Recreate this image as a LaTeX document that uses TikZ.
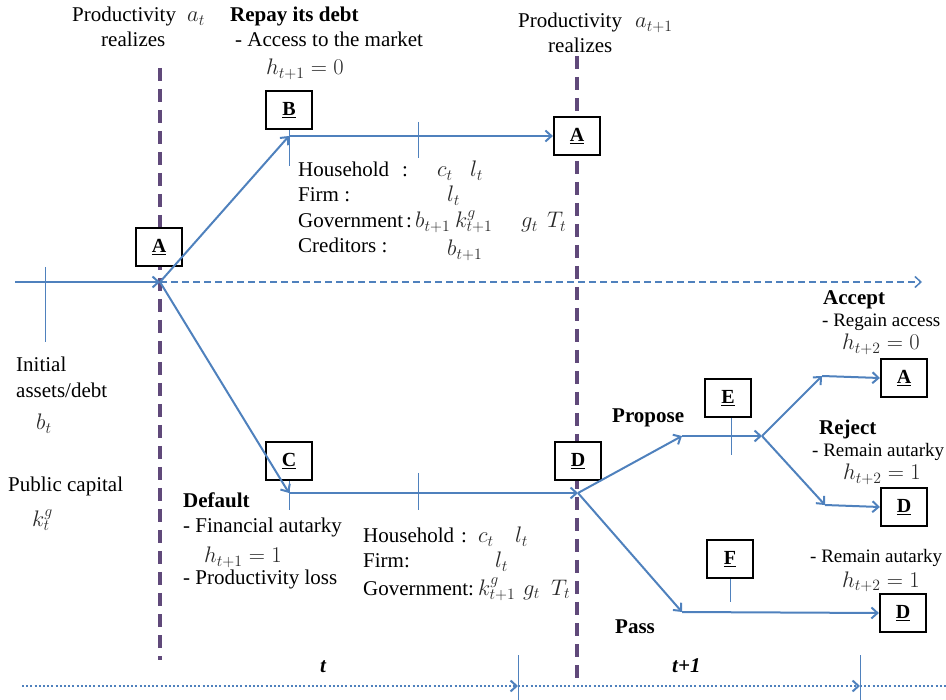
\RequirePackage{fix-cm}
\documentclass[tikz,border=0pt]{standalone}
\usepackage{fontspec}
\setmainfont{Liberation Serif}
\usetikzlibrary{arrows.meta}
\definecolor{lblue}{RGB}{79,129,189}
\definecolor{lpurple}{RGB}{96,73,122}
\definecolor{mgray}{RGB}{40,40,40}
\begin{document}
\begin{tikzpicture}[x=1pt,y=-1pt,
  every node/.style={font=\fontsize{21}{24}\selectfont, inner sep=0pt},
  box/.style={draw=black, fill=white, line width=2.2pt, minimum width=46pt, minimum height=38pt, font=\fontsize{20}{22}\selectfont\bfseries},
  flow/.style={draw=lblue, line width=2pt},
  arr/.style={flow, -{Straight Barb[length=6pt,width=11pt,line width=2pt]}},
  tick/.style={draw=lblue, line width=1pt},
  period/.style={draw=lpurple, line width=4pt, dash pattern=on 13pt off 8pt},
  dotl/.style={draw=lblue, line width=2.2pt, dash pattern=on 2pt off 2.2pt, -{Straight Barb[length=6pt,width=11pt,line width=2pt]}},
  lbl/.style={anchor=base west},
  sml/.style={anchor=base west, font=\fontsize{19}{22}\selectfont},
  mth/.style={anchor=base west, text=mgray, font=\fontsize{22.5}{25}\selectfont},
  bld/.style={anchor=base west, font=\fontsize{21}{24}\selectfont\bfseries},
]
\useasboundingbox (0,0) rectangle (946,700);

% period lines
\coordinate (p1top) at (160,68);
\coordinate (p1bot) at (160,660);
\coordinate (p2top) at (577,56);
\coordinate (p2bot) at (577,678);
\draw[period] (p1top) -- (p1bot);
\draw[period] (p2top) -- (p2bot);

% key points
\coordinate (start) at (15,282);
\coordinate (pA) at (160,282);
\coordinate (pEnd) at (922,282);
\coordinate (pB) at (289,136);
\coordinate (pC) at (289,493);
\coordinate (pD) at (578,493);
\coordinate (pE1) at (682,436);
\coordinate (pE2) at (762,436);
\coordinate (pAc) at (822,376);
\coordinate (pRj) at (825,505);
\coordinate (pF) at (682,612);

% boxes
\node[box] (A1) at (159,247) {\underline{A}};
\node[box] (B)  at (289,110) {\underline{B}};
\node[box] (A2) at (577,136) {\underline{A}};
\node[box] (C)  at (289,461) {\underline{C}};
\node[box] (D1) at (578,461) {\underline{D}};
\node[box] (E)  at (728,398) {\underline{E}};
\node[box] (F)  at (730,559) {\underline{F}};
\node[box] (A3) at (904,378) {\underline{A}};
\node[box] (D2) at (904,507) {\underline{D}};
\node[box] (D3) at (903,613) {\underline{D}};

% main flow
\draw[arr] (start) -- (pA);
\draw[flow, line width=1.5pt, dash pattern=on 7pt off 4pt, -{Straight Barb[length=6pt,width=11pt,line width=1.5pt]}] (pA) -- (pEnd);
\draw[arr] (pA) -- (pB);
\draw[arr] (pB) -- (A2.west);
\draw[arr] (pA) -- (pC);
\draw[arr] (pC) -- (pD);
\draw[arr] (pD) -- (pE1);
\draw[arr] (pE1) -- (pE2);
\draw[arr] (pE2) -- (pAc);
\draw[arr] (pAc) -- (A3.west);
\draw[arr] (pE2) -- (pRj);
\draw[arr] (pRj) -- (D2.west);
\draw[arr] (pD) -- (pF);
\draw[arr] (pF) -- (D3.west);

% ticks
\coordinate (t0a) at (45,267); \coordinate (t0b) at (45,342);
\draw[tick] (t0a) -- (t0b);
\coordinate (t1b) at (289,166); \draw[tick] (B.south) -- (t1b);
\coordinate (t2a) at (418,122); \coordinate (t2b) at (418,158); \draw[tick] (t2a) -- (t2b);
\coordinate (t3b) at (289,510); \draw[tick] (C.south) -- (t3b);
\coordinate (t4a) at (418,473); \coordinate (t4b) at (418,510); \draw[tick] (t4a) -- (t4b);
\coordinate (t5b) at (731,455); \draw[tick] (E.south -| t5b) -- (t5b);
\coordinate (t6b) at (730,602); \draw[tick] (F.south) -- (t6b);

% bottom time line
\coordinate (b0) at (22,686);
\coordinate (b1) at (518,686);
\coordinate (b2) at (860,686);
\coordinate (b3) at (946,686);
\draw[dotl] (b0) -- (b1);
\draw[dotl] (b1) -- (b2);
\draw[dotl, -] (b2) -- (b3);
\coordinate (k1a) at (518,655); \coordinate (k1b) at (518,700);
\coordinate (k2a) at (860,655); \coordinate (k2b) at (860,700);
\draw[tick] (k1a) -- (k1b);
\draw[tick] (k2a) -- (k2b);
\node[anchor=base west, font=\fontsize{21}{24}\selectfont\bfseries\itshape] (tlab) at (320,672) {t};
\node[anchor=base west, font=\fontsize{21}{24}\selectfont\bfseries\itshape] (t1lab) at (672,672) {t+1};

% top labels
\node[lbl] (prod1) at (72,22) {Productivity};
\node[mth] (at) at (187,22) {$a_t$};
\node[lbl] (real1) at (101,47) {realizes};
\node[bld] (repay) at (230,22) {Repay its debt};
\node[lbl] (access) at (235,47) {- Access to the market};
\node[mth] (h1) at (266,75) {$h_{t+1}=0$};
\node[lbl] (prod2) at (518,28) {Productivity};
\node[mth] (at1) at (635,28) {$a_{t+1}$};
\node[lbl] (real2) at (548,53) {realizes};

% upper block
\node[lbl] (hh1) at (298,177) {Household};
\node[lbl] (hh1c) at (402,177) {:};
\node[mth] (ct1) at (437,177) {$c_t$};
\node[mth] (lt1) at (470,177) {$l_t$};
\node[lbl] (fi1) at (298,202) {Firm :};
\node[mth] (lf1) at (447,202) {$l_t$};
\node[lbl] (gv1) at (298,228) {Government};
\node[lbl] (gv1c) at (406,228) {:};
\node[mth] (bg1) at (415,228) {$b_{t+1}$};
\node[mth] (kg1) at (455,228) {$k^g_{t+1}$};
\node[mth] (gg1) at (521,228) {$g_t$};
\node[mth] (TT1) at (547,228) {$T_t$};
\node[lbl] (cr1) at (298,253) {Creditors :};
\node[mth] (bc1) at (447,256) {$b_{t+1}$};

% left labels
\node[lbl] (ini) at (16,372) {Initial};
\node[lbl] (asd) at (16,398) {assets/debt};
\node[mth] (bt) at (36,430) {$b_t$};
\node[lbl] (pub) at (8,492) {Public capital};
\node[mth] (kgt) at (32,527) {$k^g_t$};

% default labels
\node[bld] (def) at (183,508) {Default};
\node[lbl] (fin) at (183,533) {- Financial autarky};
\node[mth] (h2) at (204,563) {$h_{t+1}=1$};
\node[lbl] (plo) at (183,585) {- Productivity loss};

% lower block
\node[lbl] (hh2) at (363,543) {Household};
\node[lbl] (hh2c) at (461,543) {:};
\node[mth] (ct2) at (478,543) {$c_t$};
\node[mth] (lt2) at (515,543) {$l_t$};
\node[lbl] (fi2) at (363,568) {Firm:};
\node[mth] (lf2) at (495,568) {$l_t$};
\node[lbl] (gv2) at (363,595) {Government:};
\node[mth] (kg2) at (478,595) {$k^g_{t+1}$};
\node[mth] (gg2) at (523,595) {$g_t$};
\node[mth] (TT2) at (551,595) {$T_t$};

% right labels
\node[bld] (prop) at (612,423) {Propose};
\node[bld] (pass) at (615,633) {Pass};
\node[bld] (acc) at (823,305) {Accept};
\node[sml] (reg) at (822,327) {- Regain access};
\node[mth] (h3) at (842,350) {$h_{t+2}=0$};
\node[bld] (rej) at (819,435) {Reject};
\node[sml] (rem1) at (812,457) {- Remain autarky};
\node[mth] (h4) at (843,480) {$h_{t+2}=1$};
\node[sml] (rem2) at (810,563) {- Remain autarky};
\node[mth] (h5) at (842,587) {$h_{t+2}=1$};
\end{tikzpicture}
\end{document}
